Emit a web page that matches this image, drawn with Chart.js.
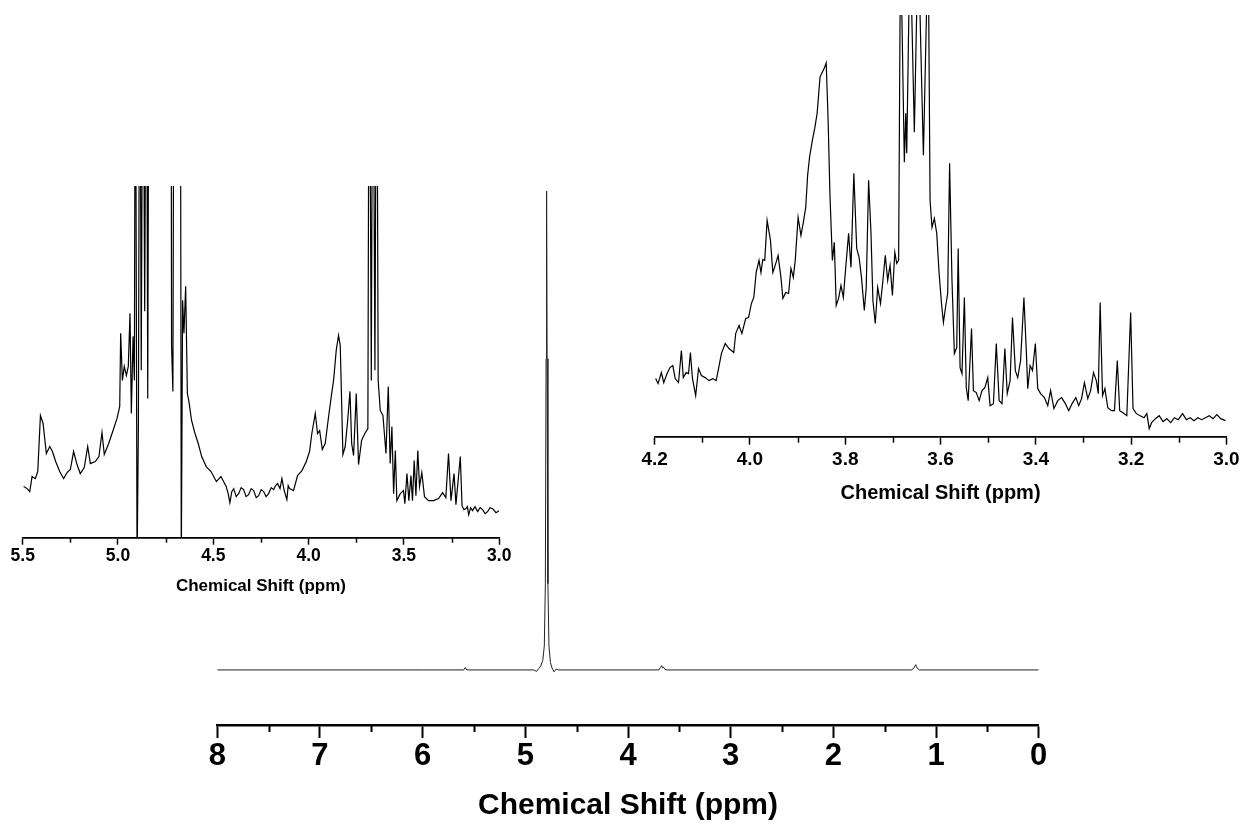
<!DOCTYPE html>
<html lang="en-US">
<head>
	<meta charset="utf-8">
	<title>1H NMR - Chemical Shift (ppm)</title>
	<script src="https://cdn.jsdelivr.net/npm/chart.js"></script>
	<style>
		body { margin: 0; background: #fff; }
		canvas { position: absolute; left: 0; top: 0; }
	</style>
</head>
<body>
	<canvas id="chart-main" width="1245" height="827"></canvas>
	<canvas id="chart-left" width="1245" height="827"></canvas>
	<canvas id="chart-right" width="1245" height="827"></canvas>

	<script>
		// full spectrum, 8 - 0 ppm (intensity in % of the water peak)
		var mainPpm = [8.0, 7.0, 6.0, 5.60, 5.585, 5.57, 5.0, 4.92, 4.89, 4.87, 4.85, 4.83, 4.815, 4.805, 4.798, 4.793, 4.788, 4.78, 4.77, 4.755, 4.74, 4.72, 4.70, 4.68, 4.0, 3.70, 3.685, 3.672, 3.665, 3.655, 3.64, 3.62, 2.0, 1.24, 1.215, 1.198, 1.19, 1.18, 1.16, 0];
		var mainInt = [0, 0, 0, 0, 0.5, 0, 0, 0, -0.3, 0.3, 0.8, 2, 5, 18, 65, 100, 65, 18, 5, 1.5, 0.4, -0.4, 0.2, 0, 0, 0, 0.5, 0.9, 0.4, 0.6, 0.1, 0, 0, 0, 0.4, 1.1, 0.7, 0.3, 0, 0];
		var mainTicks = [8, 7, 6, 5, 4, 3, 2, 1, 0];
		var mainMinor = [7.5, 6.5, 5.5, 4.5, 3.5, 2.5, 1.5, 0.5];

		// left inset, 5.5 - 3.0 ppm (vertical expansion, arbitrary units)
		var leftPpm = [5.495, 5.477, 5.463, 5.451, 5.434, 5.421, 5.407, 5.393, 5.376, 5.358, 5.344, 5.327, 5.306, 5.285, 5.267, 5.250, 5.233, 5.215, 5.198, 5.177,
			5.159, 5.145, 5.119, 5.100, 5.084, 5.072, 5.049, 5.026, 5.005, 4.991, 4.986, 4.977, 4.967, 4.956, 4.946, 4.937, 4.930, 4.921, 4.914, 4.909,
			4.900, 4.893, 4.886, 4.878, 4.869, 4.860, 4.851, 4.844, 4.837, 4.795, 4.722, 4.719, 4.712, 4.706, 4.673, 4.668, 4.661, 4.654, 4.645, 4.636,
			4.628, 4.614, 4.596, 4.579, 4.561, 4.537, 4.512, 4.484, 4.460,
			4.432, 4.422, 4.413, 4.403, 4.393, 4.380, 4.367, 4.354, 4.341, 4.328, 4.315, 4.301, 4.288, 4.275, 4.262, 4.249, 4.236, 4.223, 4.210, 4.196, 4.183, 4.173, 4.163, 4.150, 4.140, 4.128, 4.114, 4.107, 4.100,
			4.079, 4.058, 4.035, 4.012, 3.995, 3.983, 3.965, 3.953, 3.942, 3.928, 3.913, 3.895, 3.881, 3.869, 3.855, 3.843, 3.834, 3.820, 3.808, 3.795,
			3.783, 3.774, 3.764, 3.750, 3.738, 3.722, 3.705, 3.689, 3.682, 3.671, 3.663, 3.652, 3.643, 3.635, 3.624, 3.610, 3.594, 3.582, 3.572, 3.563,
			3.554, 3.545, 3.537, 3.519, 3.502, 3.495, 3.484, 3.474, 3.463, 3.455, 3.446, 3.437, 3.427, 3.418, 3.406, 3.392, 3.371, 3.344, 3.318, 3.297,
			3.280, 3.266, 3.253, 3.237, 3.227, 3.204,
			3.195, 3.185, 3.174, 3.167, 3.160, 3.150, 3.140, 3.127, 3.113, 3.100, 3.087, 3.074, 3.061, 3.048, 3.034, 3.017, 3.000];
		var leftInt = [51, 49, 46, 61, 59, 66, 122, 114, 84, 91, 86, 76, 66, 59, 65, 68, 86, 73, 64, 70,
			91, 74, 76, 81, 105, 83, 94, 107, 119, 131, 204, 157, 171, 162, 171, 224, 124, 201, 157, 600,
			-30, 111, 600, 167, 600, 226, 600, 139, 600, 1500, 600, 192, 146, 600, 600, -30, 237, 204, 251, 144,
			136, 117, 104, 94, 81, 71, 66, 56, 61,
			51, 44, 35, 46, 49, 41, 44, 50, 48, 41, 43, 49, 47, 40, 42, 48, 46, 41, 44, 50, 48, 52, 54, 49, 59, 47, 38, 52, 49,
			47, 62, 67, 76, 86, 104, 124, 104, 107, 88, 94, 121, 141, 157, 187, 202, 192, 83, 91, 117,
			146, 94, 82, 144, 73, 97, 104, 109, 600, 157, 600, 167, 600, 157, 127, 122, 84, 151, 74, 111,
			44, 87, 37, 44, 47, 34, 64, 37, 62, 37, 77, 42, 87, 51, 65, 41, 37, 37, 39, 45,
			40, 84, 37, 64, 33, 81,
			32, 28, 29, 31, 23, 30, 27, 31, 26, 30, 28, 24, 26, 30, 29, 25, 27];
		var leftTicks = [5.5, 5.0, 4.5, 4.0, 3.5, 3.0];
		var leftMinor = [5.25, 4.75, 4.25, 3.75, 3.25];

		// right inset, 4.2 - 3.0 ppm (arbitrary units)
		var rightPpm = [4.198, 4.193, 4.186, 4.181, 4.174, 4.168, 4.162, 4.157, 4.150, 4.144, 4.140, 4.134, 4.129, 4.125, 4.121, 4.114, 4.108, 4.102, 4.094, 4.086,
			4.078, 4.071, 4.066, 4.060, 4.052, 4.044, 4.034, 4.030, 4.023, 4.017, 4.009, 4.003, 3.997, 3.992, 3.987, 3.981, 3.977, 3.973, 3.969, 3.964,
			3.957, 3.952, 3.947, 3.941, 3.935, 3.931, 3.925, 3.919, 3.914, 3.909, 3.905, 3.899, 3.893, 3.888, 3.883, 3.879, 3.875, 3.869, 3.864, 3.859,
			3.853, 3.848, 3.844, 3.840, 3.836, 3.832, 3.827, 3.823, 3.819, 3.814, 3.809, 3.804, 3.799, 3.793, 3.788, 3.782, 3.776, 3.771, 3.766, 3.760,
			3.756, 3.751, 3.746, 3.742, 3.737, 3.732, 3.726, 3.721, 3.716, 3.711, 3.706, 3.701, 3.696, 3.692, 3.688, 3.684, 3.676, 3.673, 3.671, 3.664,
			3.655, 3.647, 3.636, 3.626, 3.622, 3.618, 3.613, 3.608, 3.603, 3.598, 3.594, 3.589, 3.585, 3.581, 3.576, 3.571, 3.566, 3.563, 3.559, 3.555,
			3.550, 3.546, 3.542, 3.535, 3.531, 3.525, 3.519, 3.513, 3.507, 3.501, 3.496, 3.489, 3.483, 3.477, 3.471, 3.465, 3.460, 3.454, 3.449, 3.443,
			3.438, 3.432, 3.425, 3.420, 3.417, 3.412, 3.407, 3.401, 3.396, 3.390, 3.382, 3.375, 3.369, 3.362, 3.354, 3.346, 3.338, 3.331, 3.324, 3.316,
			3.310, 3.304, 3.298, 3.291, 3.285, 3.279, 3.273, 3.269, 3.265, 3.260, 3.255, 3.249, 3.241, 3.235, 3.229, 3.224, 3.217, 3.209, 3.201, 3.196,
			3.189, 3.181, 3.173, 3.167, 3.162, 3.157, 3.149, 3.141, 3.133, 3.125, 3.117, 3.109, 3.101, 3.092, 3.084, 3.076, 3.068, 3.060, 3.052, 3.044,
			3.036, 3.028, 3.020, 3.012, 3.002];
		var rightInt = [58, 53, 64, 54, 63, 69, 71, 58, 54, 86, 59, 64, 63, 84, 59, 41, 68, 61, 59, 56,
			58, 56, 68, 83, 93, 88, 84, 103, 111, 103, 118, 119, 133, 139, 164, 176, 164, 177, 176, 216,
			196, 164, 171, 181, 159, 138, 144, 143, 168, 159, 176, 219, 201, 214, 229, 261, 279, 296, 308, 323,
			359, 364, 368, 373, 316, 239, 176, 194, 131, 138, 151, 139, 169, 203, 169, 263, 188, 179, 159, 126,
			149, 256, 203, 136, 113, 149, 133, 156, 181, 156, 171, 141, 184, 173, 176, 500, 274, 323, 283, 500,
			304, 500, 281, 500, 236, 209, 218, 203, 163, 133, 114, 131, 143, 273, 156, 83, 89, 188, 69, 63,
			139, 49, 36, 108, 46, 44, 36, 46, 49, 59, 31, 33, 93, 36, 33, 88, 43, 56, 119, 66,
			59, 76, 139, 86, 48, 71, 66, 93, 48, 43, 39, 31, 46, 28, 36, 39, 33, 26, 33, 39,
			31, 38, 54, 38, 46, 64, 56, 43, 134, 41, 48, 29, 26, 26, 76, 26, 24, 21, 124, 28,
			23, 21, 19, 23, 8, 14, 18, 21, 15, 18, 14, 19, 17, 23, 17, 19, 16, 19, 17, 19,
			21, 18, 22, 18, 16];
		var rightTicks = [4.2, 4.0, 3.8, 3.6, 3.4, 3.2, 3.0];
		var rightMinor = [4.1, 3.9, 3.7, 3.5, 3.3, 3.1];

		var fontFamily = "'Liberation Sans', Arial, Helvetica, sans-serif";

		function toPoints(xs, ys) {
			return xs.map(function (x, i) { return { x: x, y: ys[i] }; });
		}

		// short ticks between the labelled ones
		var minorTicks = {
			id: 'minorTicks',
			afterDraw: function (chart, args, opts) {
				var s = chart.scales.x;
				var ctx = chart.ctx;
				ctx.save();
				ctx.strokeStyle = '#000';
				ctx.lineWidth = opts.width;
				opts.values.forEach(function (v) {
					var px = Math.round(s.getPixelForValue(v)) + 0.5;
					ctx.beginPath();
					ctx.moveTo(px, s.top);
					ctx.lineTo(px, s.top + opts.length);
					ctx.stroke();
				});
				ctx.restore();
			}
		};

		function makeChart(id, cfg) {
			return new Chart(id, {
				type: 'line',
				data: {
					datasets: [{
						data: toPoints(cfg.xs, cfg.ys),
						borderColor: cfg.lineColor,
						borderWidth: cfg.lineWidth,
						pointRadius: 0,
						tension: 0,
						fill: false
					}]
				},
				options: {
					responsive: false,
					animation: false,
					events: [],
					layout: { padding: cfg.padding },
					plugins: {
						legend: { display: false },
						tooltip: { enabled: false },
						minorTicks: { values: cfg.minor, length: cfg.minorLen, width: cfg.tickWidth }
					},
					scales: {
						x: {
							type: 'linear',
							reverse: true,
							min: cfg.xMin,
							max: cfg.xMax,
							afterBuildTicks: function (scale) {
								scale.ticks = cfg.ticks.map(function (v) { return { value: v }; });
							},
							afterFit: function (scale) {
								scale.height = cfg.axisHeight;
							},
							grid: {
								drawOnChartArea: false,
								color: '#000',
								tickLength: cfg.tickLen,
								tickWidth: cfg.tickWidth
							},
							border: { color: '#000', width: cfg.axisWidth },
							ticks: {
								color: '#000',
								padding: cfg.tickPad,
								maxRotation: 0,
								autoSkip: false,
								font: { family: fontFamily, size: cfg.tickFont, weight: 'bold' },
								callback: cfg.fmt
							},
							title: {
								display: true,
								text: 'Chemical Shift (ppm)',
								color: '#000',
								padding: { top: 0, bottom: cfg.titlePad },
								font: { family: fontFamily, size: cfg.titleFont, weight: 'bold' }
							}
						},
						y: {
							display: false,
							min: cfg.yMin,
							max: cfg.yMax
						}
					}
				},
				plugins: [minorTicks]
			});
		}

		makeChart('chart-main', {
			xs: mainPpm, ys: mainInt, lineColor: '#222', lineWidth: 1,
			padding: { left: 217.3, right: 206.3, top: 191, bottom: 0 },
			xMin: 0, xMax: 8, yMin: -11.5, yMax: 100,
			ticks: mainTicks, minor: mainMinor,
			tickLen: 13, minorLen: 7, tickWidth: 2, axisWidth: 2.5,
			axisHeight: 102, tickPad: 0, tickFont: 31, titleFont: 30, titlePad: 3,
			fmt: function (v) { return String(v); }
		});

		makeChart('chart-left', {
			xs: leftPpm, ys: leftInt, lineColor: '#000', lineWidth: 1.2,
			padding: { left: 22.7, right: 745.8, top: 186, bottom: 219.3 },
			xMin: 3.0, xMax: 5.5, yMin: 0, yMax: 351,
			ticks: leftTicks, minor: leftMinor,
			tickLen: 7, minorLen: 5, tickWidth: 1.5, axisWidth: 1.7,
			axisHeight: 70, tickPad: 1.2, tickFont: 17.5, titleFont: 17, titlePad: 11,
			fmt: function (v) { return v.toFixed(1); }
		});

		makeChart('chart-right', {
			xs: rightPpm, ys: rightInt, lineColor: '#000', lineWidth: 1.2,
			padding: { left: 654.7, right: 18.6, top: 15, bottom: 310.3 },
			xMin: 3.0, xMax: 4.2, yMin: 0, yMax: 421,
			ticks: rightTicks, minor: rightMinor,
			tickLen: 8, minorLen: 6, tickWidth: 1.5, axisWidth: 1.7,
			axisHeight: 80, tickPad: 3.9, tickFont: 19, titleFont: 20, titlePad: 11.4,
			fmt: function (v) { return v.toFixed(1); }
		});
	</script>
</body>
</html>
